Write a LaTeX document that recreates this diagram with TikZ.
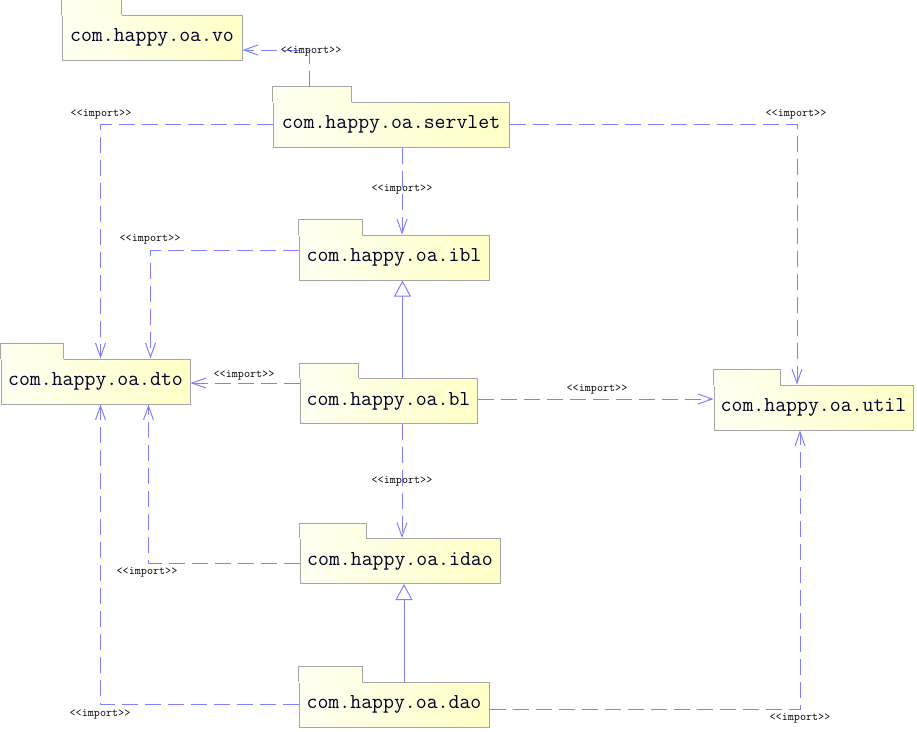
\documentclass[tikz,border=0pt]{standalone}
\usepackage{fontspec}
\usetikzlibrary{arrows.meta,calc}
\definecolor{impBlue}{RGB}{128,128,255}
\definecolor{pkgEdge}{RGB}{165,165,165}
\definecolor{pkgLight}{RGB}{255,255,242}
\definecolor{pkgDeep}{RGB}{255,255,198}
\tikzset{
  % package body, the tab is put on top afterwards
  pkgbox/.style={draw=pkgEdge, line width=1pt, left color=pkgLight, right color=pkgDeep,
    minimum height=45pt, inner sep=0pt, text=black!85!blue,
    font=\ttfamily\fontsize{21.2}{22}\selectfont},
  pkgtab/.style={draw=pkgEdge, line width=1pt},
  % <<import>> dependency
  importln/.style={-{Straight Barb[length=14pt,width=10pt]}, impBlue, line width=1pt,
    dash pattern=on 16pt off 7pt},
  % generalization (hollow triangle)
  generalln/.style={-{Triangle[open,length=16pt,width=17pt,fill=white]}, impBlue, line width=1pt},
  implabel/.style={font=\ttfamily\fontsize{11.8}{12}\selectfont, inner sep=0pt},
}

\begin{document}
\begin{tikzpicture}[x=1pt, y=-1pt]
    \useasboundingbox (0,0) rectangle (917,731);
    % --- packages ---
    \node[pkgbox, minimum width=180pt] (vo)      at (152,37.5)   {com.happy.oa.vo};
    \node[pkgbox, minimum width=236pt] (servlet) at (391,124.5)  {com.happy.oa.servlet};
    \node[pkgbox, minimum width=190pt] (ibl)     at (394,257.5)  {com.happy.oa.ibl};
    \node[pkgbox, minimum width=189pt] (dto)     at (95.5,381.5) {com.happy.oa.dto};
    \node[pkgbox, minimum width=177pt] (bl)      at (388.5,401)  {com.happy.oa.bl};
    \node[pkgbox, minimum width=199pt] (util)    at (813.5,407.5){com.happy.oa.util};
    \node[pkgbox, minimum width=200pt] (idao)    at (400,561)    {com.happy.oa.idao};
    \node[pkgbox, minimum width=190pt] (dao)     at (394,704.5)  {com.happy.oa.dao};
    % tabs: a third of the width, 15 high
    \foreach \n in {vo,servlet,ibl,dto,bl,util,idao,dao}{
      \fill[left color=pkgLight, right color=pkgLight!60!pkgDeep]
        ($(\n.north west)+(0.5,0.5)$) rectangle ($(\n.north west)!1/3!(\n.north east)+(0,-15)$);
      \draw[pkgtab] (\n.north west) -- ++(0,-15) -| ($(\n.north west)!1/3!(\n.north east)$);
    }
    % --- imports out of servlet ---
    \draw[importln] ([xshift=-82pt,yshift=15pt]servlet.north) |- ([yshift=-12.5pt]vo.east);
    \node[implabel] (lbVo) at (311,51) {<<import>>};
    \draw[importln] (servlet.west) -| ([xshift=5pt]dto.north);
    \node[implabel] (lbSvDto) at (101,114) {<<import>>};
    \draw[importln] (servlet.east) -| ([xshift=-16.5pt]util.north);
    \node[implabel] (lbSvUtil) at (796,114) {<<import>>};
    \draw[importln] ([xshift=11pt]servlet.south) -- ([xshift=11pt]servlet.south |- ibl.north);
    \node[implabel] (lbSvIbl) at (402,189) {<<import>>};
    % --- ibl / bl ---
    \draw[importln] ([yshift=7.5pt]ibl.west) -| ([xshift=55pt]dto.north);
    \node[implabel] (lbIblDto) at (150,239) {<<import>>};
    \draw[generalln] ([xshift=14pt]bl.north) -- ([xshift=14pt]bl.north |- ibl.south);
    \draw[importln] ([yshift=18pt]bl.west) -- ([yshift=18pt]bl.west -| dto.east);
    \node[implabel] (lbBlDto) at (244,375) {<<import>>};
    \draw[importln] ([yshift=2pt]bl.east) -- ([yshift=2pt]bl.east -| util.west);
    \node[implabel] (lbBlUtil) at (597,389) {<<import>>};
    \draw[importln] ([xshift=13.5pt]bl.south) -- ([xshift=13.5pt]bl.south |- idao.north);
    \node[implabel] (lbBlIdao) at (402,481) {<<import>>};
    % --- idao / dao ---
    \draw[importln] ([yshift=-2pt]idao.west) -| ([xshift=53pt]dto.south);
    \node[implabel] (lbIdaoDto) at (147,572) {<<import>>};
    \draw[generalln] ([xshift=10pt]dao.north) -- ([xshift=10pt]dao.north |- idao.south);
    \draw[importln] ([yshift=0pt]dao.west) -| ([xshift=5pt]dto.south);
    \node[implabel] (lbDaoDto) at (100,714) {<<import>>};
    \draw[importln] ([yshift=-4.5pt]dao.east) -| ([xshift=-13.5pt]util.south);
    \node[implabel] (lbDaoUtil) at (800,718) {<<import>>};
\end{tikzpicture}
\end{document}
